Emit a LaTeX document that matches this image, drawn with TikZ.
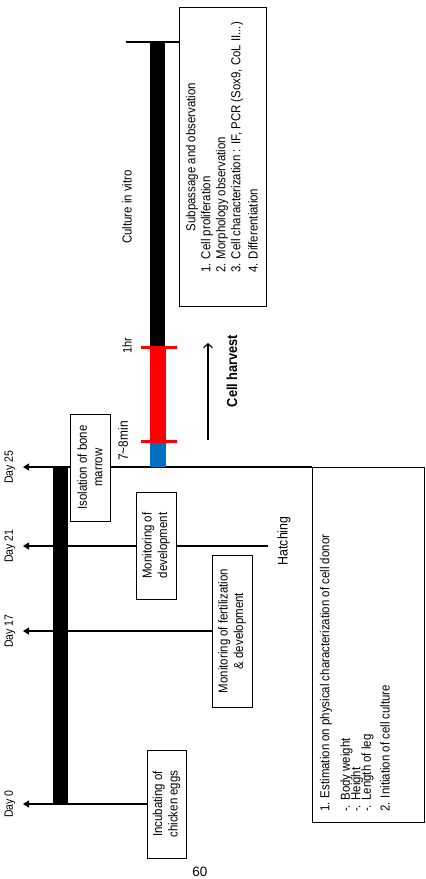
\documentclass[tikz,border=0pt]{standalone}
\usepackage{fontspec}
\setmainfont{Liberation Sans}[FakeStretch=0.88]
\newfontfamily\pagefont{Liberation Sans}
\usetikzlibrary{arrows.meta}
\definecolor{barred}{RGB}{255,0,0}
\definecolor{barblue}{RGB}{0,112,192}
\begin{document}
\begin{tikzpicture}[x=1pt,y=-1pt,
  conn/.style={line width=1.1pt},
  dayarrow/.style={conn,-{Triangle[length=6pt,width=7pt]}},
  rbox/.style={draw,line width=0.9pt,fill=white,rotate=90,inner sep=0pt,align=center,font=\fontsize{13}{15.5}\selectfont},
  lbl/.style={rotate=90,inner sep=0pt,font=\fontsize{13}{15}\selectfont},
  lline/.style={lbl,anchor=west},
  daylbl/.style={lbl,font=\fontsize{12}{14}\selectfont},
  capline/.style={barred,line width=3pt},
]
\path[use as bounding box] (0,0) rectangle (426,879);

% coordinates
\coordinate (t25) at (23,467);
\coordinate (t21) at (23,546);
\coordinate (t17) at (23,631);
\coordinate (t0) at (23,804);
\coordinate (c25) at (312,467);
\coordinate (hatchend) at (268,546);
\coordinate (topL) at (126,42);
\coordinate (harvS) at (208,440);
\coordinate (harvE) at (208,343);

% lines passing through boxes
\draw[dayarrow] (c25) -- (t25);
\draw[dayarrow] (hatchend) -- (t21);

% boxes
\node[rbox,minimum width=107pt,minimum height=40pt] (iso) at (90,467.5) {Isolation of bone\\marrow};
\node[rbox,minimum width=107pt,minimum height=40pt] (dev) at (156,545.5) {Monitoring of\\development};
\node[rbox,minimum width=152pt,minimum height=40pt] (fert) at (232,631) {Monitoring of fertilization\\\& development};
\node[rbox,minimum width=108pt,minimum height=39pt] (incub) at (166.5,804) {Incubating of\\chicken eggs};
\node[rbox,minimum width=355pt,minimum height=112pt] (est) at (368,644.5) {};
\node[rbox,minimum width=299pt,minimum height=87pt] (sub) at (222.5,156.5) {};

% lines ending at boxes
\draw[dayarrow] (fert.north) -- (t17);
\draw[dayarrow] (incub.north) -- (t0);
\draw[conn] (topL) -- (sub.north |- topL);

% bars
\fill[black] (53,467) rectangle (68,804);
\fill[black] (150,42) rectangle (165,347);
\fill[barred] (150,347) rectangle (166,441);
\fill[barblue] (150,441) rectangle (166,467);
\draw[capline] (141,347) -- (177,347);
\draw[capline] (141,441) -- (177,441);

% cell harvest arrow
\draw[conn,-{Straight Barb[length=4pt,width=9pt]}] (harvS) -- (harvE);

% labels
\node[daylbl] (d25) at (10,467) {Day 25};
\node[daylbl] (d21) at (10,546) {Day 21};
\node[daylbl] (d17) at (10,631) {Day 17};
\node[daylbl] (d0) at (10,804) {Day 0};
\node[lbl] (culture) at (127,207) {Culture in vitro};
\node[lbl,font=\fontsize{12.5}{14}\selectfont] (onehr) at (127,346) {1hr};
\node[lbl,font=\fontsize{13.5}{15}\selectfont] (mins) at (123,441) {7\textasciitilde 8min};
\node[lbl,font=\bfseries\fontsize{14.5}{16}\selectfont] (harvest) at (232,371) {Cell harvest};
\node[lbl,font=\fontsize{14}{16}\selectfont] (hatch) at (284,541) {Hatching};

% estimation box text
\node[lline] (e1) at (326,812) {1. Estimation on physical characterization of cell donor};
\node[lline] (e2) at (346.5,812) {-. Body weight};
\node[lline] (e3) at (357,812) {-. Height};
\node[lline] (e4) at (367.5,812) {-. Length of leg};
\node[lline] (e5) at (385,812) {2. Initiation of cell culture};

% subpassage box text
\node[lbl] (s0) at (192,157) {Subpassage and observation};
\node[lline] (s1) at (207,273) {1. Cell proliferation};
\node[lline] (s2) at (222,273) {2. Morphology observation};
\node[lline] (s3) at (237,273) {3. Cell characterization : IF, PCR (Sox9, CoL II...)};
\node[lline] (s4) at (253,273) {4. Differentiation};

% page number
\node[font=\pagefont\fontsize{13.5}{15}\selectfont,inner sep=0pt] (page) at (200,872) {60};
\end{tikzpicture}
\end{document}
